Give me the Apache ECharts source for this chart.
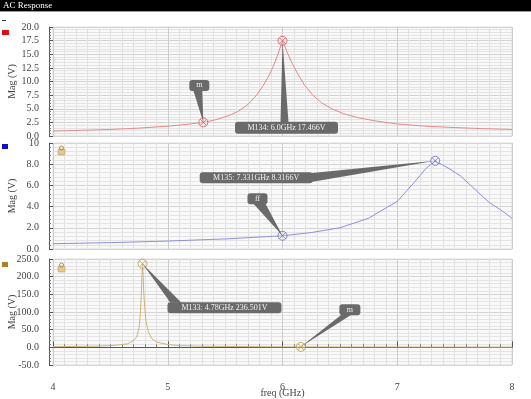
<!DOCTYPE html>
<html><head><meta charset="utf-8">
<script src="https://cdn.jsdelivr.net/npm/echarts@6/dist/echarts.min.js"></script>
<style>html,body{margin:0;padding:0;background:#fff}#c{width:531px;height:399px}</style>
</head><body><div id="c"></div>
<script>
// ---- data ----
const freqRed = [4.0, 4.25, 4.5, 4.75, 5.0, 5.15, 5.31, 5.42, 5.54, 5.62, 5.7, 5.77, 5.83, 5.88, 5.92, 5.96, 6.0, 6.04, 6.08, 6.13, 6.19, 6.26, 6.34, 6.43, 6.53, 6.65, 6.8, 7.0, 7.25, 7.5, 7.75, 8.0];
const magRed  = [0.9, 1.05, 1.2, 1.45, 1.8, 2.1, 2.5, 3.0, 3.8, 4.6, 5.8, 7.4, 9.2, 11.0, 12.8, 15.0, 17.466, 15.4, 13.5, 11.5, 9.4, 7.6, 6.1, 5.0, 4.1, 3.4, 2.8, 2.2, 1.8, 1.55, 1.35, 1.2];

const freqBlue = [4.0, 4.5, 5.0, 5.5, 6.0, 6.25, 6.5, 6.75, 7.0, 7.15, 7.25, 7.331, 7.45, 7.55, 7.65, 7.8, 7.9, 8.0];
const magBlue  = [0.5, 0.6, 0.75, 0.95, 1.25, 1.55, 2.0, 2.9, 4.5, 6.3, 7.6, 8.3166, 7.6, 6.9, 5.9, 4.4, 3.7, 2.9];

const freqGold = [4.0, 4.2, 4.4, 4.55, 4.65, 4.7, 4.73, 4.75, 4.76, 4.77, 4.775, 4.78, 4.785, 4.79, 4.8, 4.81, 4.83, 4.86, 4.9, 5.0, 5.1, 5.3, 5.5, 6.0, 6.16, 7.0, 8.0];
const magGold  = [2, 2.5, 3.5, 6, 10, 18, 30, 55, 90, 150, 200, 236.501, 210, 160, 110, 75, 45, 25, 15, 8, 5, 3, 2.5, 1.5, 1.3, 1.0, 0.7];

const markerFreqRed = [5.31, 6.0];   const markerMagRed = [2.5, 17.466];
const markerFreqBlue = [6.0, 7.331]; const markerMagBlue = [1.25, 8.3166];
const markerFreqGold = [6.16, 4.78]; const markerMagGold = [1.3, 236.501];
const calloutRed = ['m', 'M134: 6.0GHz 17.466V'];
const calloutBlue = ['ff', 'M135: 7.331GHz 8.3166V'];
const calloutGold = ['m', 'M133: 4.78GHz 236.501V'];

const xTicks = [4, 5, 6, 7, 8];
const yRanges = [[0, 20, 2.5], [0, 10, 2], [-50, 250, 50]];
const title = 'AC Response';
const yName = 'Mag (V)';
const xName = 'freq (GHz)';

// ---- chart ----
const FONT = 'Liberation Serif';
const chart = echarts.init(document.getElementById('c'), null, {renderer: 'canvas'});
const grids = [
  {left: 53, right: 19, top: 27, height: 109},
  {left: 53, right: 19, top: 143, height: 106},
  {left: 53, right: 19, top: 259, height: 106}
];
const colors = ['#e58a8a', '#8f8fdc', '#cdb57a'];
const markerColors = ['#e05050', '#6a6ad0', '#b89a50'];

function xAxis(i) {
  const last = i === 2;
  return {
    type: 'value', gridIndex: i, min: xTicks[0], max: xTicks[xTicks.length - 1], interval: 1,
    offset: last ? 5 : 0,
    axisLine: {show: last, lineStyle: {color: '#555'}},
    axisTick: {show: last, inside: true, length: 6, lineStyle: {color: '#555'}},
    minorTick: {show: last, splitNumber: 10, length: 3, lineStyle: {color: '#777'}},
    axisLabel: {show: last, margin: 12, color: '#444', fontFamily: FONT, fontSize: 10},
    splitLine: {show: true, lineStyle: {color: '#cccccc', width: 1}},
    minorSplitLine: {show: true, lineStyle: {color: '#e2e2e2', width: 1}},
    name: last ? xName : '', nameLocation: 'middle', nameGap: 18,
    nameMoveOverlap: false,
    nameTextStyle: {color: '#444', fontFamily: FONT, fontSize: 10}
  };
}
function yAxis(i) {
  const r = yRanges[i];
  return {
    type: 'value', gridIndex: i, min: r[0], max: r[1], interval: r[2], offset: 4,
    axisLine: {show: true, lineStyle: {color: '#555'}},
    axisTick: {show: true, inside: true, length: 4, lineStyle: {color: '#555'}},
    minorTick: {show: true, splitNumber: 5, length: 2, lineStyle: {color: '#777'}},
    axisLabel: {margin: 10, color: '#444', fontFamily: FONT, fontSize: 10,
      formatter: v => (i === 1 && v === 10) ? '10' : v.toFixed(1)},
    splitLine: {show: true, lineStyle: {color: '#d4d4d4'}},
    minorSplitLine: {show: true, lineStyle: {color: '#e4e4e4'}},
    name: yName, nameLocation: 'middle', nameGap: 32, nameRotate: 90,
    nameMoveOverlap: false,
    nameTruncate: {maxWidth: 300},
    nameTextStyle: {color: '#444', fontFamily: FONT, fontSize: 10, width: 60, overflow: 'none'}
  };
}
const pair = (a, b) => a.map((v, k) => [v, b[k]]);
const lineData = [pair(freqRed, magRed), pair(freqBlue, magBlue), pair(freqGold, magGold)];
const markerData = [pair(markerFreqRed, markerMagRed), pair(markerFreqBlue, markerMagBlue), pair(markerFreqGold, markerMagGold)];
const symbolPath = 'path://M0,-5A5,5 0 1,1 0,5A5,5 0 1,1 0,-5ZM-3.5,-3.5L3.5,3.5M3.5,-3.5L-3.5,3.5';

const series = [];
for (let i = 0; i < 3; i++) {
  series.push({type: 'line', xAxisIndex: i, yAxisIndex: i, data: lineData[i], showSymbol: false,
    smooth: false,
    lineStyle: {color: colors[i], width: 1}, animation: false, z: 3});
  series.push({type: 'scatter', xAxisIndex: i, yAxisIndex: i, data: markerData[i],
    symbol: symbolPath, symbolSize: 9,
    itemStyle: {color: 'rgba(255,255,255,0.35)', borderColor: markerColors[i], borderWidth: 1},
    animation: false, z: 5});
}

chart.setOption({
  backgroundColor: '#ffffff',
  animation: false,
  grid: grids.map(g => Object.assign({show: true, backgroundColor: '#f9f9f9', borderColor: '#dcdcdc', borderWidth: 1, containLabel: false, outerBoundsMode: 'none'}, g)),
  xAxis: [0, 1, 2].map(xAxis),
  yAxis: [0, 1, 2].map(yAxis),
  series: series
});

// ---- callouts & decorations ----
const BOX = '#6a6a6a';
function callout(i, k, text, dx, dy, w, h, base) {
  const d = markerData[i][k];
  const p = chart.convertToPixel({xAxisIndex: i, yAxisIndex: i}, d);
  const bx = p[0] + dx - w / 2, by = p[1] + dy - h / 2;
  const pts = base.map(b => [bx + b[0] * w + (b[2] || 0), by + b[1] * h + (b[3] || 0)]);
  pts.splice(1, 0, [p[0], p[1]]);
  return [
    {type: 'polygon', shape: {points: pts}, style: {fill: BOX}, z: 10},
    {type: 'rect', shape: {x: bx, y: by, width: w, height: h, r: 3}, style: {fill: BOX}, z: 11},
    {type: 'text', x: bx + w / 2, y: by + h / 2, z: 12,
      style: {text: text, fill: '#f2f2f2', font: '8px ' + FONT, align: 'center', verticalAlign: 'middle'}}
  ];
}
let g = [];
// top bar
g.push({type: 'rect', shape: {x: 0, y: 0, width: 531, height: 11}, style: {fill: '#000'}, z: 20});
g.push({type: 'text', x: 3, y: 6, z: 21, style: {text: title, fill: '#fff', font: '9px ' + FONT, verticalAlign: 'middle'}});
g.push({type: 'rect', shape: {x: 0, y: 11, width: 531, height: 1}, style: {fill: '#999'}, z: 20});
// legend swatches
g.push({type: 'rect', shape: {x: 2, y: 20, width: 4, height: 1}, style: {fill: '#333'}});
g.push({type: 'rect', shape: {x: 2, y: 30, width: 7, height: 5}, style: {fill: '#dd1111'}});
g.push({type: 'rect', shape: {x: 2, y: 144, width: 6, height: 5}, style: {fill: '#1010c0'}});
g.push({type: 'rect', shape: {x: 2, y: 262, width: 6, height: 5}, style: {fill: '#a88420'}});
// lock icons
[146, 263].forEach(y => {
  g.push({type: 'rect', shape: {x: 58, y: y + 3, width: 7, height: 6, r: 1}, style: {fill: '#e3c890', stroke: '#b09050', lineWidth: 0.5}, z: 6});
  g.push({type: 'rect', shape: {x: 59.5, y: y, width: 4, height: 4, r: 2}, style: {fill: 'none', stroke: '#b09050', lineWidth: 1}, z: 6});
});
// callouts: base points as [fracX, fracY, pxX, pxY]
g = g.concat(callout(0, 1, calloutRed[1], 4, 87, 103, 12, [[0.5, 0, -6, 0.5], [0.5, 0, 2, 0.5]]));
g = g.concat(callout(0, 0, calloutRed[0], -4, -37, 20, 11, [[0.2, 1, 0, -0.5], [0.65, 1, 0, -0.5]]));
g = g.concat(callout(1, 1, calloutBlue[1], -179, 17, 113, 11, [[1, 0, -3, 1], [1, 1, -3, -1]]));
g = g.concat(callout(1, 0, calloutBlue[0], -25, -37, 20, 11, [[0.3, 1, 0, -0.5], [0.9, 1, 0, -0.5]]));
g = g.concat(callout(2, 1, calloutGold[1], 82, 44, 114, 11, [[0, 0, 3, 0.5], [0, 0, 14, 0.5]]));
g = g.concat(callout(2, 0, calloutGold[0], 49, -37, 21, 11, [[0, 1, 2, -0.5], [0, 1, 12, -0.5]]));
chart.setOption({graphic: g});
</script></body></html>
